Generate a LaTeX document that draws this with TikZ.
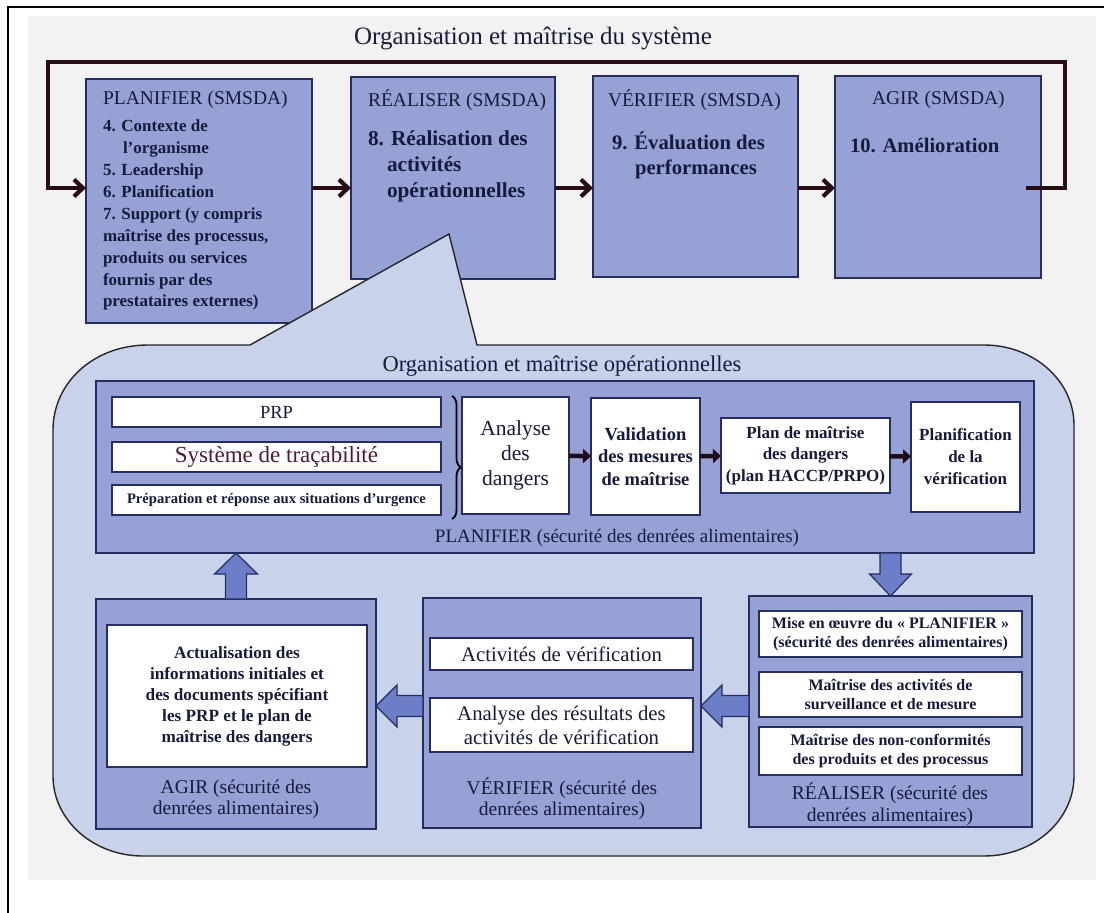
\documentclass[tikz,border=0pt]{standalone}
\usepackage{fontspec}
\setmainfont{Liberation Serif}
\usetikzlibrary{arrows.meta,calc,decorations.pathreplacing}
\definecolor{boxfill}{RGB}{150,162,213}
\definecolor{boxline}{RGB}{38,46,96}
\definecolor{callfill}{RGB}{200,210,235}
\definecolor{bggray}{RGB}{242,242,242}
\definecolor{ink}{RGB}{22,26,60}
\definecolor{loopline}{RGB}{40,12,22}
\definecolor{darklink}{RGB}{28,12,28}
\definecolor{barrowfill}{RGB}{108,126,200}
\definecolor{tracink}{RGB}{80,24,60}
\newcommand\fsz[2]{\fontsize{#1}{#2}\selectfont}
\begin{document}
\begin{tikzpicture}[x=1pt,y=-1pt,
  every node/.style={inner sep=0pt,outer sep=0pt,text=ink},
  % rectangle given by its left, top, right and bottom edges
  span/.style n args={4}{minimum width={#3-#1},minimum height={#4-#2},
    at={({(#1+#3)/2},{(#2+#4)/2})}},
  bluebox/.style={draw=boxline,line width=1.6pt,fill=boxfill},
  whitebox/.style={draw=boxline,line width=1.6pt,fill=white,align=center},
  flow/.style={draw=loopline,line width=4.2pt,line join=miter,-{Straight Barb[length=9pt,width=17pt]}},
  link/.style={draw=darklink,line width=4.5pt,-{Triangle[length=8pt,width=14pt]}},
  blockarrow/.style={fill=barrowfill,draw=boxline,line width=1.2pt,line join=miter},
  callout/.style={fill=callfill,draw=black!85,line width=1.4pt},
  bracestyle/.style={draw=black,line width=1.8pt,decorate,decoration={brace,amplitude=9pt,aspect=0.58}},
  headfont/.style={font=\fsz{19.5}{22}},
  labelfont/.style={font=\fsz{19.5}{21},align=center}
]
\useasboundingbox (0,0) rectangle (1104,913);
% page background and frame
\fill[bggray] (28,16) rectangle (1096,880);
\draw[line width=1.5pt] (8,913) -- (8,7) -- (1104,7);

% ---- system level (SMSDA) ----
\node[font=\fsz{25}{28}] (title) at (533,38) {Organisation et maîtrise du système};

\node[bluebox,span={86}{79}{312}{323}] (planif) {};
\node[bluebox,span={351}{77}{555}{279}] (realis) {};
\node[bluebox,span={593}{76}{798}{277}] (verif) {};
\node[bluebox,span={835}{76}{1041}{278}] (agir) {};

\node[headfont,anchor=west] (tPlan) at (103,100) {PLANIFIER (SMSDA)};
\node[anchor=north west,align=left,font=\bfseries\fsz{17}{21.9}] (lPlan) at (103,120)
  {4. Contexte de\\\hspace*{20pt}l’organisme\\5. Leadership\\6. Planification\\7. Support (y compris\\maîtrise des processus,\\produits ou services\\fournis par des\\prestataires externes)};

\node[headfont,anchor=west] (tReal) at (368,100) {RÉALISER (SMSDA)};
\node[anchor=north west,align=left,font=\bfseries\fsz{21.3}{26}] (lReal) at (368,131)
  {8. Réalisation des\\\hspace*{19pt}activités\\\hspace*{19pt}opérationnelles};

\node[headfont,anchor=west] (tVer) at (608,100) {VÉRIFIER (SMSDA)};
\node[anchor=north west,align=left,font=\bfseries\fsz{20.7}{25}] (lVer) at (612,132)
  {9. Évaluation des\\\hspace*{23pt}performances};

\node[headfont,anchor=west] (tAgir) at (872,100) {AGIR (SMSDA)};
\node[anchor=west,font=\bfseries\fsz{20.6}{25}] (lAgir) at (850,145) {10. Amélioration};

% PDCA loop of the system
\coordinate (ay) at (0,188);
\coordinate (loopR) at (1065,62);
\coordinate (loopL) at (48,62);
\draw[flow] (planif.east |- ay) -- (realis.west |- ay);
\draw[flow] (realis.east |- ay) -- (verif.west |- ay);
\draw[flow] (verif.east |- ay) -- (agir.west |- ay);
\draw[flow] ($(agir.east |- ay)+(-15,0)$) -| (loopR) -| (loopL) |- (planif.west |- ay);

% ---- operational level, drawn as a callout from RÉALISER ----
\draw[callout] (250,345) -- (449,234) -- (477,345) -- (984,345)
  .. controls (1033.7,345) and (1074,380.8) .. (1074,425) -- (1074,776)
  .. controls (1074,820.2) and (1033.7,856) .. (984,856) -- (143,856)
  .. controls (93.3,856) and (53,820.2) .. (53,776) -- (53,430)
  .. controls (53,383) and (93.3,345) .. (148,345) -- cycle;

\node[font=\fsz{22.5}{26}] (title2) at (562,366) {Organisation et maîtrise opérationnelles};

% PLANIFIER (food safety)
\node[bluebox,span={96}{381}{1034}{553}] (planIn) {};
\node[whitebox,span={112}{397}{441}{427},font=\fsz{18.5}{20}] (prp) {PRP};
\node[whitebox,span={112}{442}{441}{472},font=\fsz{23}{25}] (trac) {\textcolor{tracink}{Système de traçabilité}};
\node[whitebox,span={112}{485}{441}{515},font=\bfseries\fsz{14.6}{17}] (prep) {Préparation et réponse aux situations d’urgence};
\draw[bracestyle] ($(prp.north east)+(11,-1)$) -- ($(prep.south east)+(11,4)$);

\node[whitebox,span={462}{397}{569}{514},font=\fsz{21.5}{25}] (analyse) {Analyse\\des\\dangers};
\node[whitebox,span={591}{398}{700}{515},font=\bfseries\fsz{18.5}{22.5}] (valid) {Validation\\des mesures\\de maîtrise};
\node[whitebox,span={721}{418}{890}{493},font=\bfseries\fsz{17}{21.5}] (haccp) {Plan de maîtrise\\des dangers\\(plan HACCP/PRPO)};
\node[whitebox,span={911}{402}{1020}{512},font=\bfseries\fsz{17}{22}] (planv) {Planification\\de la\\vérification};
\draw[link] (analyse) -- (valid);
\draw[link] (valid) -- (haccp);
\draw[link] (haccp) -- (planv);
\node[font=\fsz{19}{22}] (lPlanIn) at (617,538) {PLANIFIER (sécurité des denrées alimentaires)};

% AGIR (food safety)
\node[bluebox,span={96}{599}{376}{829}] (agirL) {};
\node[whitebox,span={107}{625}{367}{767},font=\bfseries\fsz{17.2}{21}] (maj)
  {Actualisation des\\informations initiales et\\des documents spécifiant\\les PRP et le plan de\\maîtrise des dangers};
\node[labelfont] (lAgirL) at (236,799) {AGIR (sécurité des\\denrées alimentaires)};

% VÉRIFIER (food safety)
\node[bluebox,span={423}{598}{701}{828}] (verL) {};
\node[whitebox,span={430}{638}{693}{670},font=\fsz{20.8}{23}] (actv) {Activités de vérification};
\node[whitebox,span={430}{698}{693}{752},font=\fsz{20.8}{24}] (anres) {Analyse des résultats des\\activités de vérification};
\node[labelfont] (lVerL) at (562,799) {VÉRIFIER (sécurité des\\denrées alimentaires)};

% RÉALISER (food safety)
\node[bluebox,span={749}{596}{1032}{827}] (realL) {};
\node[whitebox,span={759}{611}{1022}{657},font=\bfseries\fsz{16}{19}] (mise)
  {Mise en œuvre du « PLANIFIER »\\(sécurité des denrées alimentaires)};
\node[whitebox,span={759}{672}{1022}{717},font=\bfseries\fsz{16}{19}] (surv)
  {Maîtrise des activités de\\surveillance et de mesure};
\node[whitebox,span={759}{727}{1022}{775},font=\bfseries\fsz{16}{19}] (nonc)
  {Maîtrise des non-conformités\\des produits et des processus};
\node[labelfont,font=\fsz{19.5}{22}] (lRealL) at (890,804) {RÉALISER (sécurité des\\denrées alimentaires)};

% block arrows of the food safety cycle
\coordinate (dnB) at (planIn.south -| realL.north);
\coordinate (dnT) at (realL.north);
\draw[blockarrow] ($(dnB)+(-10.5,0)$) -- ($(dnT)+(-10.5,-22)$) -- ($(dnT)+(-21,-22)$) -- (dnT)
  -- ($(dnT)+(21,-22)$) -- ($(dnT)+(10.5,-22)$) -- ($(dnB)+(10.5,0)$) -- cycle;

\coordinate (hy) at (0,706);
\coordinate (l1B) at (realL.west |- hy);
\coordinate (l1T) at (verL.east |- hy);
\draw[blockarrow] ($(l1B)+(0,-10.5)$) -- ($(l1T)+(21,-10.5)$) -- ($(l1T)+(21,-21)$) -- (l1T)
  -- ($(l1T)+(21,21)$) -- ($(l1T)+(21,10.5)$) -- ($(l1B)+(0,10.5)$) -- cycle;

\coordinate (l2B) at (verL.west |- hy);
\coordinate (l2T) at (agirL.east |- hy);
\draw[blockarrow] ($(l2B)+(0,-10.5)$) -- ($(l2T)+(21,-10.5)$) -- ($(l2T)+(21,-21)$) -- (l2T)
  -- ($(l2T)+(21,21)$) -- ($(l2T)+(21,10.5)$) -- ($(l2B)+(0,10.5)$) -- cycle;

\coordinate (upB) at (agirL.north);
\coordinate (upT) at (agirL.north |- planIn.south);
\draw[blockarrow] ($(upB)+(-10.5,0)$) -- ($(upT)+(-10.5,21)$) -- ($(upT)+(-21.5,21)$) -- (upT)
  -- ($(upT)+(21.5,21)$) -- ($(upT)+(10.5,21)$) -- ($(upB)+(10.5,0)$) -- cycle;
\end{tikzpicture}
\end{document}
